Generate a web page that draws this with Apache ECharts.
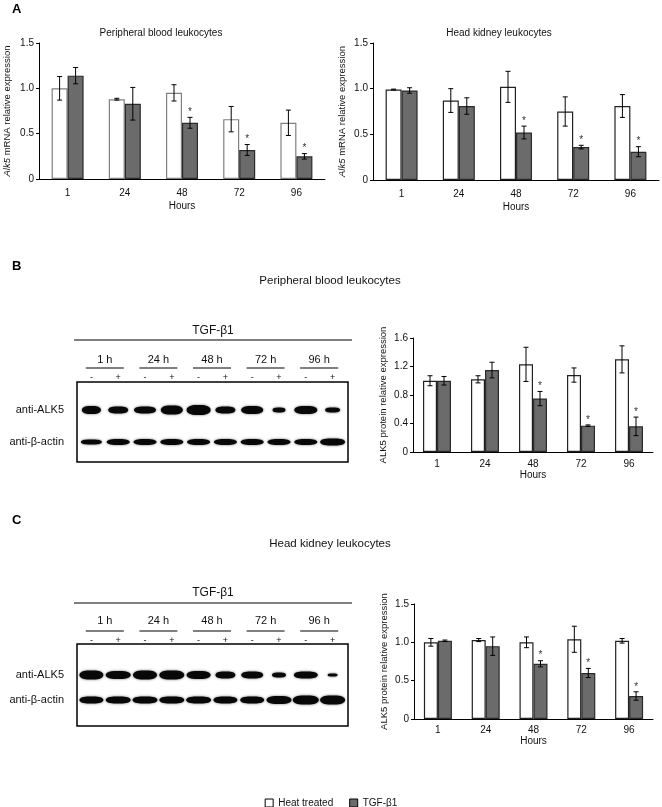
<!DOCTYPE html>
<html><head><meta charset="utf-8">
<script src="https://cdn.jsdelivr.net/npm/echarts@6/dist/echarts.min.js"></script>
<style>html,body{margin:0;padding:0;background:#fff}#c{width:662px;height:807px}</style>
</head><body><div id="c"></div>
<script>
// ---------- data ----------
const hours = ['1', '24', '48', '72', '96'];
const seriesNames = ['Heat treated', 'TGF-β1'];

// Panel A – Alk5 mRNA, peripheral blood leukocytes
const aPblHeat    = [1.00, 0.88, 0.95, 0.66, 0.62];
const aPblHeatErr = [0.13, 0.01, 0.09, 0.14, 0.14];
const aPblTgf     = [1.14, 0.83, 0.62, 0.32, 0.25];
const aPblTgfErr  = [0.09, 0.18, 0.06, 0.06, 0.03];
const aPblSig     = [0, 0, 1, 1, 1];

// Panel A – Alk5 mRNA, head kidney leukocytes
const aHklHeat    = [0.99, 0.87, 1.02, 0.75, 0.81];
const aHklHeatErr = [0.005, 0.13, 0.17, 0.16, 0.125];
const aHklTgf     = [0.98, 0.81, 0.52, 0.36, 0.31];
const aHklTgfErr  = [0.03, 0.09, 0.07, 0.02, 0.055];
const aHklSig     = [0, 0, 1, 1, 1];

// Panel B – ALK5 protein, peripheral blood leukocytes
const bHeat    = [1.00, 1.02, 1.23, 1.08, 1.30];
const bHeatErr = [0.07, 0.05, 0.24, 0.10, 0.19];
const bTgf     = [1.00, 1.15, 0.75, 0.37, 0.36];
const bTgfErr  = [0.06, 0.11, 0.10, 0.01, 0.13];
const bSig     = [0, 0, 1, 1, 1];

// Panel C – ALK5 protein, head kidney leukocytes
const cHeat    = [1.00, 1.03, 1.00, 1.04, 1.02];
const cHeatErr = [0.05, 0.02, 0.07, 0.17, 0.03];
const cTgf     = [1.02, 0.95, 0.72, 0.60, 0.30];
const cTgfErr  = [0.01, 0.12, 0.04, 0.06, 0.055];
const cSig     = [0, 0, 1, 1, 1];

// Western blot lanes / rows and band sizes (width, thickness)
const blotTimes = ['1 h', '24 h', '48 h', '72 h', '96 h'];
const blotLanes = ['-', '+', '-', '+', '-', '+', '-', '+', '-', '+'];
const blotRows  = ['anti-ALK5', 'anti-β-actin'];
const bAlk5W  = [19, 20, 22, 22, 24, 20, 22, 13, 23, 15];
const bAlk5H  = [8, 7, 7, 9, 10, 7, 8, 5, 8, 5];
const bActinW = [21, 23, 23, 23, 23, 23, 23, 23, 23, 25];
const bActinH = [5, 6, 6, 6, 6, 6, 6, 6, 6, 7];
const cAlk5W  = [24, 25, 24, 25, 24, 20, 22, 14, 24, 10];
const cAlk5H  = [9, 8, 9, 9, 8, 7, 7, 5, 7, 3];
const cActinW = [24, 25, 25, 25, 25, 24, 24, 25, 26, 25];
const cActinH = [7, 7, 7, 7, 7, 7, 7, 8, 9, 9];

// ---------- chart ----------
const FONT = '"Liberation Sans", Arial, sans-serif';
const TXT = '#111';
const GRAY = '#6b6b6b';
const chart = echarts.init(document.getElementById('c'));

function errRender(bw, side) {
  return function (params, api) {
    const i = api.value(0), v = api.value(1), e = api.value(2), s = api.value(3);
    const c = api.coord([i, v]);
    const x = c[0] + side * bw / 2;
    const top = api.coord([i, v + e])[1];
    const bot = api.coord([i, v - e])[1];
    const cap = 2.5;
    const st = { stroke: '#000', lineWidth: 1 };
    const ch = [
      { type: 'line', shape: { x1: x, y1: top, x2: x, y2: bot }, style: st },
      { type: 'line', shape: { x1: x - cap, y1: top, x2: x + cap, y2: top }, style: st },
      { type: 'line', shape: { x1: x - cap, y1: bot, x2: x + cap, y2: bot }, style: st }
    ];
    if (s) ch.push({ type: 'text', style: { text: '*', x: x, y: top - 10, align: 'center', verticalAlign: 'top', fontSize: 10, fontFamily: FONT, fill: '#333' } });
    return { type: 'group', children: ch };
  };
}

function barSet(idx, heat, heatErr, tgf, tgfErr, sig, bw, heatBorder) {
  return [
    { name: seriesNames[0], type: 'bar', xAxisIndex: idx, yAxisIndex: idx, data: heat, barWidth: bw, barGap: '0%',
      itemStyle: { color: '#fff', borderColor: heatBorder, borderWidth: 1.2 } },
    { name: seriesNames[1], type: 'bar', xAxisIndex: idx, yAxisIndex: idx, data: tgf, barWidth: bw, barGap: '0%',
      itemStyle: { color: GRAY, borderColor: '#2a2a2a', borderWidth: 1.2 } },
    { type: 'custom', xAxisIndex: idx, yAxisIndex: idx, z: 5, silent: true,
      renderItem: errRender(bw, -1), data: heat.map((v, i) => [i, v, heatErr[i], 0]) },
    { type: 'custom', xAxisIndex: idx, yAxisIndex: idx, z: 5, silent: true,
      renderItem: errRender(bw, 1), data: tgf.map((v, i) => [i, v, tgfErr[i], sig[i]]) }
  ];
}

function catAxis(gi, margin, nameGap) {
  return { type: 'category', gridIndex: gi, data: hours,
    axisLine: { lineStyle: { color: '#000', width: 1 } },
    axisTick: { length: 3, lineStyle: { color: '#000' } },
    axisLabel: { color: TXT, fontSize: 10, fontFamily: FONT, margin: margin },
    name: 'Hours', nameLocation: 'middle', nameGap: nameGap,
    nameTextStyle: { color: TXT, fontSize: 10, fontFamily: FONT } };
}
function valAxis(gi, max, interval, name, nameGap, rich) {
  return { type: 'value', gridIndex: gi, min: 0, max: max, interval: interval,
    splitLine: { show: false },
    axisLine: { show: true, lineStyle: { color: '#000', width: 1 } },
    axisTick: { show: true, length: 3, lineStyle: { color: '#000' } },
    axisLabel: { color: TXT, fontSize: 10, fontFamily: FONT, margin: 5,
      formatter: v => v === 0 ? '0' : v.toFixed(1) },
    name: name, nameLocation: 'middle', nameGap: nameGap, nameRotate: 90,
    nameTextStyle: { color: TXT, fontSize: 9.5, fontFamily: FONT, rich: rich } };
}
const italicRich = { i: { fontStyle: 'italic', fontSize: 9.5, fontFamily: FONT, color: TXT } };

function bandData(aw, ah, tw, th) {
  const d = [];
  for (let i = 0; i < blotLanes.length; i++) {
    d.push([i, 0, aw[i], ah[i]]);
    d.push([i, 1, tw[i], th[i]]);
  }
  return d;
}
const bandPath = 'path://M0,5 C0,1.5 4,0 8,0 L12,0 C16,0 20,1.5 20,5 C20,8.5 16,10 12,10 L8,10 C4,10 0,8.5 0,5 Z';
function blotSeries(xi, yi, data) {
  return { type: 'scatter', xAxisIndex: xi, yAxisIndex: yi, silent: true, data: data,
    symbol: bandPath, symbolSize: v => [v[2], v[3]],
    itemStyle: { color: '#080808', opacity: 1, shadowBlur: 2.5, shadowColor: 'rgba(0,0,0,0.6)' } };
}
function laneAxis(gi, margin) {
  return { type: 'category', gridIndex: gi, position: 'top', data: blotLanes,
    axisLine: { show: false }, axisTick: { show: false },
    axisLabel: { color: TXT, fontSize: 9, fontFamily: FONT, margin: margin, interval: 0 } };
}
function timeAxis(gi, margin) {
  return { type: 'category', gridIndex: gi, position: 'top', data: blotTimes,
    axisLine: { show: false }, axisTick: { show: false },
    axisLabel: { color: TXT, fontSize: 11, fontFamily: FONT, margin: margin, interval: 0 } };
}
function rowAxis(gi) {
  return { type: 'category', gridIndex: gi, inverse: true, data: blotRows,
    axisLine: { show: false }, axisTick: { show: false },
    axisLabel: { color: TXT, fontSize: 11, fontFamily: FONT, margin: 14 } };
}

// decorative layout (non-data) elements
const BLOT_L = 78, BLOT_W = 268;
const graphics = [
  { type: 'text', left: 12, top: 3, style: { text: 'A', font: 'bold 13px ' + FONT, fill: '#000' } },
  { type: 'text', left: 12, top: 260, style: { text: 'B', font: 'bold 13px ' + FONT, fill: '#000' } },
  { type: 'text', left: 12, top: 514, style: { text: 'C', font: 'bold 13px ' + FONT, fill: '#000' } },
  { type: 'text', x: 161, y: 33, style: { text: 'Peripheral blood leukocytes', align: 'center', verticalAlign: 'middle', font: '10px ' + FONT, fill: TXT } },
  { type: 'text', x: 499, y: 33, style: { text: 'Head kidney leukocytes', align: 'center', verticalAlign: 'middle', font: '10px ' + FONT, fill: TXT } },
  { type: 'text', x: 330, y: 281, style: { text: 'Peripheral blood leukocytes', align: 'center', verticalAlign: 'middle', font: '11.5px ' + FONT, fill: TXT } },
  { type: 'text', x: 330, y: 544, style: { text: 'Head kidney leukocytes', align: 'center', verticalAlign: 'middle', font: '11.5px ' + FONT, fill: TXT } }
];
[[331, 340, 368, 382, 80], [593, 603, 631, 644, 82]].forEach(([ty, ly, uy, bt, bh]) => {
  graphics.push({ type: 'text', x: 213, y: ty, style: { text: 'TGF-β1', align: 'center', verticalAlign: 'middle', font: '12px ' + FONT, fill: TXT } });
  graphics.push({ type: 'line', shape: { x1: 74, y1: ly, x2: 352, y2: ly }, style: { stroke: '#000', lineWidth: 1 } });
  for (let k = 0; k < blotTimes.length; k++) {
    const cx = BLOT_L + (k + 0.5) * BLOT_W / blotTimes.length;
    graphics.push({ type: 'line', shape: { x1: cx - 19, y1: uy, x2: cx + 19, y2: uy }, style: { stroke: '#000', lineWidth: 1 } });
  }
  graphics.push({ type: 'rect', shape: { x: 77, y: bt, width: 271, height: bh }, style: { fill: 'none', stroke: '#000', lineWidth: 1.5 }, z: 10 });
});

const option = {
  animation: false,
  backgroundColor: '#fff',
  textStyle: { fontFamily: FONT },
  grid: [
    { left: 39, top: 43, width: 286, height: 136 },
    { left: 373, top: 43, width: 286, height: 137 },
    { left: 413, top: 338, width: 240, height: 114 },
    { left: 414, top: 604, width: 239, height: 115 },
    { left: BLOT_L, top: 394, width: BLOT_W, height: 64 },
    { left: BLOT_L, top: 662.5, width: BLOT_W, height: 50 }
  ],
  xAxis: [
    catAxis(0, 9, 22), catAxis(1, 9, 22), catAxis(2, 7, 17), catAxis(3, 6, 16),
    laneAxis(4, 12), timeAxis(4, 29),
    laneAxis(5, 17), timeAxis(5, 36)
  ],
  yAxis: [
    valAxis(0, 1.5, 0.5, '{i|Alk5} mRNA relative expression', 27, italicRich),
    valAxis(1, 1.5, 0.5, '{i|Alk5} mRNA relative expression', 26, italicRich),
    valAxis(2, 1.6, 0.4, 'ALK5 protein relative expression', 25),
    valAxis(3, 1.5, 0.5, 'ALK5 protein relative expression', 25),
    rowAxis(4), rowAxis(5)
  ],
  legend: {
    top: 793, left: 'center', icon: 'rect', itemWidth: 8, itemHeight: 8, itemGap: 16,
    textStyle: { color: TXT, fontSize: 10, fontFamily: FONT },
    data: [
      { name: seriesNames[0], itemStyle: { color: '#fff', borderColor: '#000', borderWidth: 1 } },
      { name: seriesNames[1], itemStyle: { color: GRAY, borderColor: '#000', borderWidth: 1 } }
    ]
  },
  graphic: graphics,
  series: [].concat(
    barSet(0, aPblHeat, aPblHeatErr, aPblTgf, aPblTgfErr, aPblSig, 16, '#808080'),
    barSet(1, aHklHeat, aHklHeatErr, aHklTgf, aHklTgfErr, aHklSig, 16, '#222'),
    barSet(2, bHeat, bHeatErr, bTgf, bTgfErr, bSig, 14, '#222'),
    barSet(3, cHeat, cHeatErr, cTgf, cTgfErr, cSig, 14, '#222'),
    [blotSeries(4, 4, bandData(bAlk5W, bAlk5H, bActinW, bActinH)),
     blotSeries(6, 5, bandData(cAlk5W, cAlk5H, cActinW, cActinH))]
  )
};
chart.setOption(option);
</script></body></html>
